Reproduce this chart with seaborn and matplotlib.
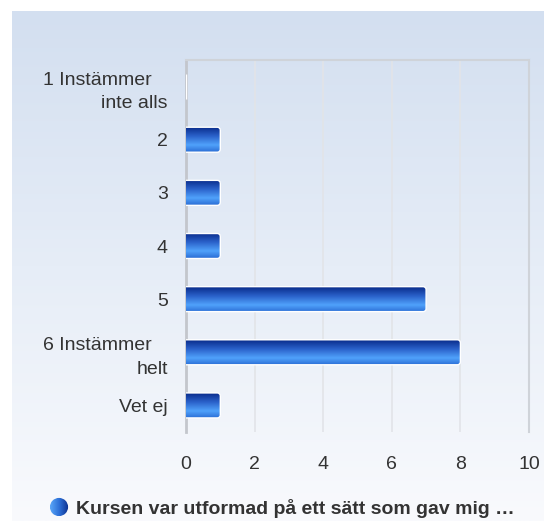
import numpy as np
import pandas as pd
import matplotlib
matplotlib.use("Agg")
import matplotlib.pyplot as plt
from matplotlib.colors import LinearSegmentedColormap
from matplotlib.patches import Circle, FancyBboxPatch
import seaborn as sns

NB = "\u00a0"
categories = ["1 Instämmer" + NB * 3 + "\ninte alls", "2", "3", "4", "5",
              "6 Instämmer" + NB * 3 + "\nhelt", "Vet ej"]
values = [0, 1, 1, 1, 7, 8, 1]
series_name = "Kursen var utformad på ett sätt som gav mig …"
x_ticks = [0, 2, 4, 6, 8, 10]

sns.set_theme(style="white")
plt.rcParams["font.family"] = ["Liberation Sans", "DejaVu Sans"]

W, H = 544, 521
fig = plt.figure(figsize=(W / 100, H / 100), dpi=100)
fig.patch.set_facecolor("white")

# background gradient panel
bg_ax = fig.add_axes([12 / W, 0, 1 - 12 / W, 1 - 11 / H], zorder=-10)
bg_cmap = LinearSegmentedColormap.from_list("bg", ["#d3dff0", "#e6edf7", "#f9fafd"])
bg_ax.imshow(np.linspace(0, 1, 256).reshape(-1, 1), aspect="auto", cmap=bg_cmap,
             extent=(0, 1, 0, 1), origin="upper")
bg_ax.set_axis_off()

ax_left, ax_right, ax_top, ax_bottom = 186, 529, 60, 432
ax = fig.add_axes([ax_left / W, 1 - ax_bottom / H, (ax_right - ax_left) / W,
                   (ax_bottom - ax_top) / H])
ax.set_facecolor("none")

df = pd.DataFrame({"category": categories, "value": values})
sns.barplot(data=df, x="value", y="category", orient="h", ax=ax, width=0.47,
            color="#2f6fd8", edgecolor="white", linewidth=1.0, zorder=3)

ax.set_xlim(0, 10)
ax.set_ylim(len(categories) - 0.5, -0.5)

px_per_x = (ax_right - ax_left) / 10.0
px_per_y = (ax_bottom - ax_top) / len(categories)
rad_px = 3.0
rx = rad_px / px_per_x
aspect = (rad_px / px_per_y) / rx

bar_cmap = LinearSegmentedColormap.from_list(
    "bar", [(0, "#0a2d8c"), (0.35, "#2a60c9"), (0.72, "#50a2fb"), (1.0, "#2c6fd6")])
grad = np.linspace(0, 1, 64).reshape(-1, 1)
for p in list(ax.patches):
    x0, y0 = p.get_x(), p.get_y()
    w, h = p.get_width(), p.get_height()
    if w <= 0:
        continue
    p.set_visible(False)
    box = FancyBboxPatch((x0 - rx, y0), w + rx, h,
                         boxstyle=f"round,pad=0,rounding_size={rx}",
                         mutation_aspect=aspect, transform=ax.transData,
                         facecolor="none", edgecolor="white", linewidth=1.0, zorder=5)
    ax.add_patch(box)
    im = ax.imshow(grad, aspect="auto", cmap=bar_cmap, origin="upper",
                   extent=(x0, x0 + w, y0 + h, y0), zorder=4, interpolation="bilinear")
    im.set_clip_path(box)

ax.set_xlim(0, 10)
ax.set_ylim(len(categories) - 0.5, -0.5)
ax.set_xticks(x_ticks)
ax.set_xticklabels([str(t) for t in x_ticks])
ax.set_xlabel("")
ax.set_ylabel("")
ax.xaxis.grid(True, color="#e2e4e8", linewidth=1.2, zorder=0)
ax.yaxis.grid(False)
ax.set_axisbelow(True)
ax.tick_params(axis="both", length=0, labelsize=14, colors="#333333")
ax.tick_params(axis="x", pad=17)
ax.tick_params(axis="y", pad=13)
for lab in ax.get_yticklabels():
    lab.set_linespacing(1.5)
    lab.set_horizontalalignment("right")
for s in ["top", "right"]:
    ax.spines[s].set_color("#cfd3d9")
    ax.spines[s].set_linewidth(1.5)
ax.spines["left"].set_color("#c3c6cc")
ax.spines["left"].set_linewidth(2)
ax.spines["bottom"].set_visible(False)

# legend
cx, cy, r = 59, 507, 9
leg_ax = fig.add_axes([(cx - r - 1) / W, 1 - (cy + r + 1) / H, (2 * r + 2) / W, (2 * r + 2) / H])
leg_ax.set_xlim(-1.1, 1.1)
leg_ax.set_ylim(-1.1, 1.1)
leg_ax.set_axis_off()
circ = Circle((0, 0), 1.0, transform=leg_ax.transData, facecolor="none", edgecolor="none")
leg_ax.add_patch(circ)
leg_cmap = LinearSegmentedColormap.from_list("leg", ["#5aa6f8", "#2c6fd6", "#0a2d8c"])
im = leg_ax.imshow(np.linspace(0, 1, 64).reshape(1, -1), aspect="auto", cmap=leg_cmap,
                   extent=(-1, 1, -1, 1), interpolation="bilinear")
im.set_clip_path(circ)
fig.text(76 / W, 1 - 508 / H, series_name, fontsize=14, fontweight="bold",
         color="#333333", va="center", ha="left")

fig.savefig("out.png", dpi=100, facecolor=fig.get_facecolor())
